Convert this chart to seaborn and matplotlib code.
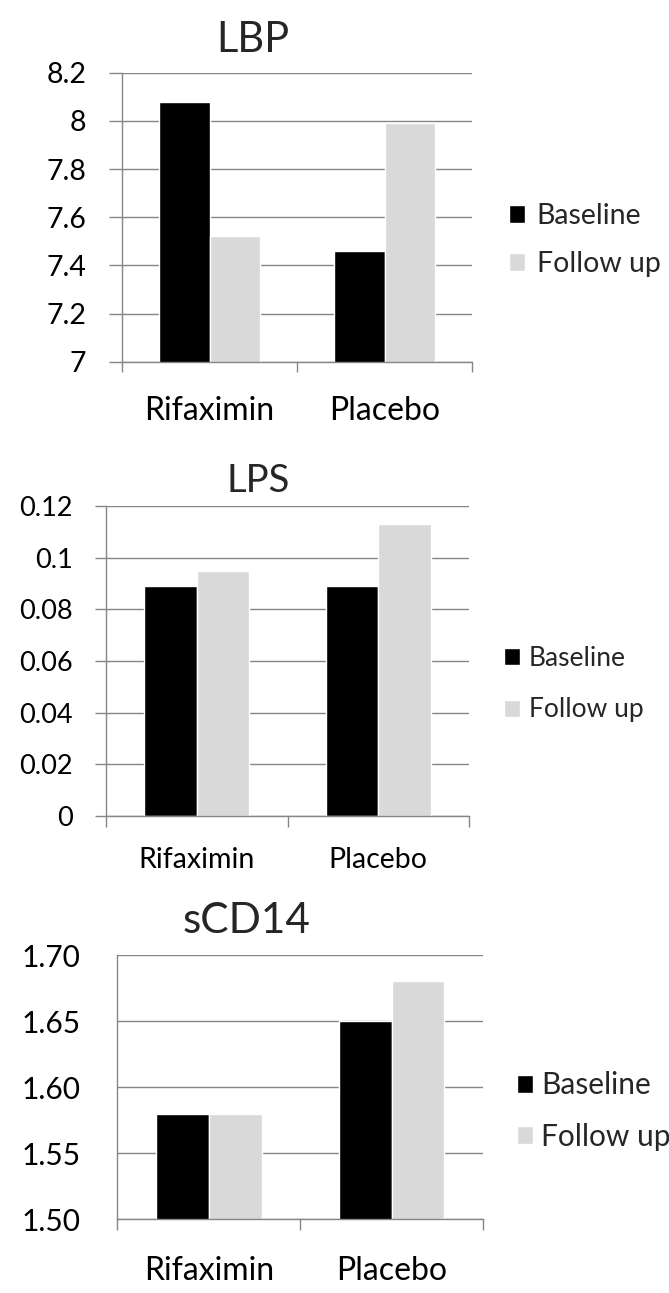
import pandas as pd
import numpy as np
import matplotlib
matplotlib.use("Agg")
import matplotlib.pyplot as plt
import seaborn as sns
from matplotlib.ticker import FixedLocator

# data
groups = ['Rifaximin', 'Placebo']
times = ['Baseline', 'Follow up']

lbp_baseline = [8.08, 7.46]
lbp_followup = [7.52, 7.99]
lbp_ticks = [7, 7.2, 7.4, 7.6, 7.8, 8, 8.2]
lbp_labels = ['7', '7.2', '7.4', '7.6', '7.8', '8', '8.2']

lps_baseline = [0.089, 0.089]
lps_followup = [0.095, 0.113]
lps_ticks = [0, 0.02, 0.04, 0.06, 0.08, 0.1, 0.12]
lps_labels = ['0', '0.02', '0.04', '0.06', '0.08', '0.1', '0.12']

scd14_baseline = [1.58, 1.65]
scd14_followup = [1.58, 1.68]
scd14_ticks = [1.50, 1.55, 1.60, 1.65, 1.70]
scd14_labels = ['1.50', '1.55', '1.60', '1.65', '1.70']

sns.set_style('white')
plt.rcParams['font.family'] = ['Lato', 'DejaVu Sans']

W, H = 669, 1293
fig = plt.figure(figsize=(W / 100, H / 100), dpi=100)
grid_col = '#868686'
PT = 0.72  # points per pixel at dpi 100


def panel(box, base, follow, ticks, labels, title, title_pos, title_size,
          tick_size, tick_len, tick_pad, cat_size, cat_pad, xtick_len,
          leg_pos, leg_size, leg_spacing, leg_gap):
    x0, y0, x1, y1 = box
    ax = fig.add_axes([x0 / W, 1 - y1 / H, (x1 - x0) / W, (y1 - y0) / H])
    df = pd.DataFrame({
        'group': groups * 2,
        'time': [times[0]] * 2 + [times[1]] * 2,
        'value': base + follow,
    })
    sns.barplot(data=df, x='group', y='value', hue='time', hue_order=times,
                palette=['black', '#d9d9d9'], saturation=1, width=0.578,
                errorbar=None, ax=ax)
    ax.set_xlim(-0.5, 1.5)
    ax.set_ylim(ticks[0], ticks[-1])
    ax.set_yticks(ticks, labels)
    ax.set_xlabel('')
    ax.set_ylabel('')
    ax.set_axisbelow(True)
    ax.yaxis.grid(True, color=grid_col, lw=1.0)
    ax.xaxis.grid(False)
    for s in ['top', 'right']:
        ax.spines[s].set_visible(False)
    for s in ['left', 'bottom']:
        ax.spines[s].set_color(grid_col)
        ax.spines[s].set_linewidth(1.0)
    ax.xaxis.set_minor_locator(FixedLocator([-0.5, 0.5, 1.5]))
    ax.tick_params(axis='x', which='minor', bottom=True, length=xtick_len * PT,
                   color=grid_col, width=1.0)
    ax.tick_params(axis='x', which='major', length=0, pad=cat_pad * PT,
                   labelsize=cat_size, labelcolor='black')
    ax.tick_params(axis='y', left=tick_len > 0, length=tick_len * PT,
                   color=grid_col, width=1.0, pad=tick_pad * PT,
                   labelsize=tick_size, labelcolor='black')

    fig.text(title_pos[0] / W, 1 - title_pos[1] / H, title, ha='center',
             va='baseline', fontsize=title_size)

    handles, lab = ax.get_legend_handles_labels()
    fs_px = leg_size / PT
    ax.legend(handles, lab, loc='center left',
              bbox_to_anchor=(leg_pos[0] / W, 1 - leg_pos[1] / H),
              bbox_transform=fig.transFigure, frameon=False, fontsize=leg_size,
              handlelength=16 / fs_px, handleheight=16 / fs_px,
              handletextpad=leg_gap / fs_px,
              labelspacing=(leg_spacing - 0.95 * fs_px) / fs_px,
              borderpad=0, borderaxespad=0)
    return ax


panel((122, 72.7, 472, 361.7), lbp_baseline, lbp_followup, lbp_ticks, lbp_labels,
      'LBP', (253, 51.7), 30, 20.5, 12.7, 23, 23, 34, 10,
      (509, 240), 20.5, 49, 11.7)

panel((106, 506, 469, 816), lps_baseline, lps_followup, lps_ticks, lps_labels,
      'LPS', (258, 492), 27.5, 19.5, 11, 22, 20.5, 30.5, 11,
      (504, 684), 19, 52, 9)

panel((117.3, 955, 483, 1219.3), scd14_baseline, scd14_followup, scd14_ticks,
      scd14_labels, 'sCD14', (247, 933.3), 30.5, 21.5, 0, 37, 23, 36.5, 10.7,
      (517, 1111), 21.5, 51.7, 8)

fig.savefig('out.png', dpi=100)
